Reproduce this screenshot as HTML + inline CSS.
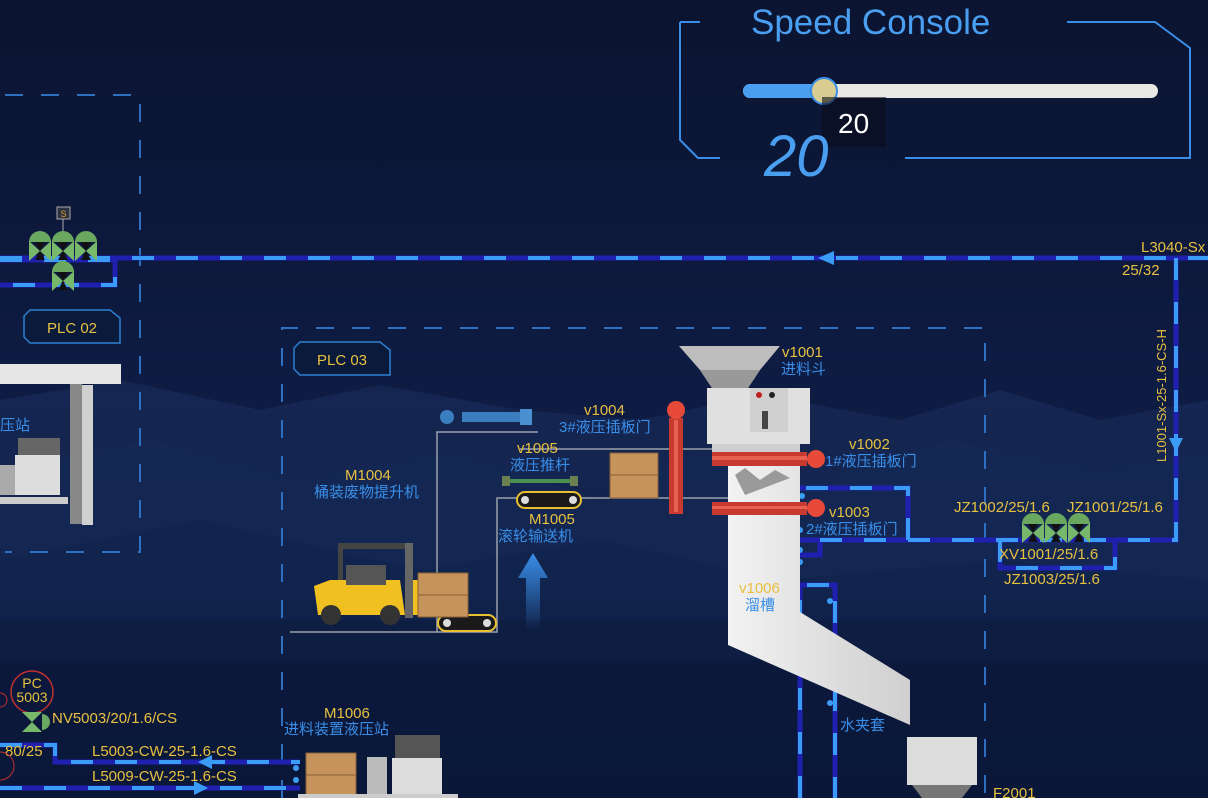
<!DOCTYPE html>
<html><head><meta charset="utf-8"><style>
html,body{margin:0;padding:0;background:#0b1635;}
svg{display:block;font-family:"Liberation Sans","Noto Sans CJK SC",sans-serif;}
</style></head><body>
<svg width="1208" height="798" viewBox="0 0 1208 798" xmlns="http://www.w3.org/2000/svg">
<defs>
<linearGradient id="bg" x1="0" y1="0" x2="0" y2="1">
<stop offset="0" stop-color="#0b1430"/><stop offset="0.5" stop-color="#0e1c44"/><stop offset="1" stop-color="#0a1738"/>
</linearGradient>
<linearGradient id="chute" x1="0" y1="0" x2="1" y2="0"><stop offset="0" stop-color="#f2f2f2"/><stop offset="1" stop-color="#cfcfcf"/></linearGradient>
<linearGradient id="arr" x1="0" y1="0" x2="0" y2="1"><stop offset="0" stop-color="#3a8ee8"/><stop offset="1" stop-color="#3a8ee8" stop-opacity="0"/></linearGradient>
<g id="valve"><path d="M-11 -1 A11 11 0 0 1 11 -1Z" fill="#6aa860"/><path d="M-11 -2 L0 8 L-11 18Z M11 -2 L0 8 L11 18Z" fill="#78b86a"/><path d="M-5 -1 L5 -1 L0 8 L-5 17 L5 17 L0 8Z" fill="#111"/></g>
</defs>
<rect width="1208" height="798" fill="url(#bg)"/>
<!-- mountains -->
<path d="M0 400 L120 380 L260 410 L380 385 L520 410 L640 420 L760 395 L900 420 L1000 390 L1100 420 L1208 400 L1208 600 L0 600Z" fill="#1a2f5e" opacity="0.5"/>
<path d="M0 470 L150 440 L300 480 L450 450 L600 500 L700 450 L820 480 L950 440 L1100 470 L1208 450 L1208 620 L0 620Z" fill="#142a55" opacity="0.55"/>
<path d="M0 560 L200 520 L420 570 L600 540 L780 580 L1000 560 L1208 580 L1208 660 L0 660Z" fill="#0f2148" opacity="0.5"/>

<!-- dashed areas -->
<g fill="none" stroke="#2f6fc0" stroke-width="2" stroke-dasharray="18,18">
<path d="M5 95 L140 95 L140 552 L5 552"/>
<path d="M282 798 L282 328 L985 328 L985 798"/>
</g>

<g fill="none" stroke-linejoin="miter">
<g stroke="#2020b0" stroke-width="5">
<path d="M0 258 L1208 258"/>
<path d="M0 260 L115 260 L115 285 L0 285"/>
<path d="M1176 258 L1176 540 L800 540"/>
<path d="M908 540 L908 488 L800 488"/>
<path d="M1000 540 L1000 568 L1115 568 L1115 540"/>
<path d="M820 540 L820 555 L800 555"/>
<path d="M800 798 L800 585 L835 585 L835 798"/>
<path d="M0 745 L55 745 L55 762 L300 762"/>
<path d="M0 788 L300 788"/>
</g>
<g stroke="#3a9cf5" stroke-width="4" stroke-dasharray="22,22">
<path d="M0 258 L1208 258"/>
<path d="M0 260 L115 260 L115 285 L0 285"/>
<path d="M1176 258 L1176 540 L800 540"/>
<path d="M908 540 L908 488 L800 488"/>
<path d="M1000 540 L1000 568 L1115 568 L1115 540"/>
<path d="M800 798 L800 585 L835 585 L835 798"/>
<path d="M0 745 L55 745 L55 762 L300 762"/>
<path d="M0 788 L300 788"/>
</g>
</g>
<g fill="#3a9cf5">
<path d="M818 258 L834 251 L834 265Z"/>
<path d="M1176 452 L1169 438 L1183 438Z"/>
<path d="M198 762 L212 755 L212 769Z"/>
<path d="M208 788 L194 781 L194 795Z"/>
</g>
<g fill="#3a9cf5">
<circle cx="802" cy="496" r="3"/><circle cx="800" cy="530" r="3"/><circle cx="800" cy="550" r="3"/><circle cx="800" cy="562" r="3"/>
<circle cx="830" cy="601" r="3"/><circle cx="830" cy="703" r="3"/>
<circle cx="296" cy="768" r="3"/><circle cx="296" cy="780" r="3"/>
</g>

<!-- top-left valves -->
<rect x="57" y="207" width="13" height="12" fill="#2a3140" stroke="#aaa" stroke-width="1"/>
<text x="63.5" y="217" font-size="9" fill="#e0a030" text-anchor="middle">S</text>
<line x1="63" y1="219" x2="63" y2="235" stroke="#aaa"/>
<use href="#valve" x="40" y="243"/>
<use href="#valve" x="63" y="243"/>
<use href="#valve" x="86" y="243"/>
<use href="#valve" x="63" y="273"/>

<!-- PLC labels -->
<g fill="#0a1a3a" stroke="#2f7fd0" stroke-width="1.5">
<path d="M30 310 L110 310 L120 318 L120 343 L30 343 L24 337 L24 316Z"/>
<path d="M300 342 L380 342 L390 350 L390 375 L300 375 L294 369 L294 348Z"/>
</g>
<text x="72" y="333" font-size="15" fill="#e8c040" text-anchor="middle">PLC  02</text>
<text x="342" y="365" font-size="15" fill="#e8c040" text-anchor="middle">PLC  03</text>

<!-- left station -->
<rect x="0" y="364" width="121" height="20" fill="#e6e6e6"/>
<rect x="70" y="384" width="12" height="140" fill="#888"/>
<rect x="82" y="385" width="11" height="140" fill="#d0d0d0"/>
<text x="0" y="430" font-size="15" fill="#3a8ee8">压站</text>
<rect x="18" y="438" width="42" height="25" fill="#666"/>
<rect x="15" y="455" width="45" height="40" fill="#ddd"/>
<rect x="0" y="465" width="15" height="30" fill="#aaa"/>
<rect x="0" y="497" width="68" height="7" fill="#ccc"/>

<!-- Speed console -->
<path d="M680 22 L700 22 M680 22 L680 140 L698 158 L720 158" fill="none" stroke="#3a8ee8" stroke-width="2"/>
<path d="M1067 22 L1155 22 L1190 48 L1190 158 L905 158" fill="none" stroke="#3a8ee8" stroke-width="2"/>
<text x="751" y="34" font-size="35" fill="#4a9ef0">Speed Console</text>
<rect x="743" y="84" width="415" height="14" rx="7" fill="#e8e8e4"/>
<rect x="743" y="84" width="80" height="14" rx="7" fill="#4a9ef0"/>
<circle cx="824" cy="91" r="13" fill="#d8cc90" stroke="#3a8ee8" stroke-width="2"/>
<rect x="822" y="97" width="64" height="50" fill="#0a0e1a" opacity="0.6"/>
<text x="838" y="133" font-size="28" fill="#fff">20</text>
<text x="764" y="176" font-size="58" font-style="italic" fill="#4a9ef0">20</text>

<text x="1141" y="252" font-size="15" fill="#e8c040">L3040-Sx</text>
<text x="1122" y="275" font-size="15" fill="#e8c040">25/32</text>
<text transform="translate(1166,462) rotate(-90)" font-size="13" fill="#e8c040">L1001-Sx-25-1.6-CS-H</text>

<!-- right valves -->
<use href="#valve" x="1033" y="525"/>
<use href="#valve" x="1056" y="525"/>
<use href="#valve" x="1079" y="525"/>
<g font-size="15" fill="#e8c040">
<text x="954" y="512">JZ1002/25/1.6</text>
<text x="1067" y="512">JZ1001/25/1.6</text>
<text x="999" y="559">XV1001/25/1.6</text>
<text x="1004" y="584">JZ1003/25/1.6</text>
</g>

<g fill="none" stroke="#9aa0aa" stroke-width="1.5">
<path d="M290 632 L437 632 L437 432 L538 432"/>
<path d="M437 632 L497 632 L497 498 L730 498"/>
<path d="M520 449 L730 449"/>
</g>

<path d="M679 346 L780 346 L760 370 L748 388 L712 388 L700 370Z" fill="#bdbdbd"/>
<path d="M700 370 L760 370 L748 388 L712 388Z" fill="#999"/>
<rect x="707" y="388" width="103" height="56" fill="#e0e0e0"/>
<rect x="750" y="388" width="38" height="44" fill="#d0d0d0"/>
<circle cx="759" cy="395" r="3" fill="#c02020"/><circle cx="772" cy="395" r="3" fill="#222"/>
<rect x="762" y="411" width="6" height="18" fill="#444"/>
<rect x="712" y="444" width="88" height="14" fill="#cfcfcf"/>
<path d="M728 458 L800 458 L800 612 L910 680 L910 725 L728 645Z" fill="url(#chute)"/>
<path d="M735 475 L745 468 L760 480 L775 470 L790 478 L745 495Z" fill="#9a9a9a"/>
<rect x="712" y="452" width="95" height="14" fill="#c83a30"/>
<rect x="712" y="456" width="95" height="4" fill="#e86050"/>
<circle cx="816" cy="459" r="9" fill="#e84a3a"/>
<rect x="712" y="502" width="95" height="13" fill="#c83a30"/>
<rect x="712" y="506" width="95" height="3" fill="#e86050"/>
<circle cx="816" cy="508" r="9" fill="#e84a3a"/>
<rect x="669" y="418" width="14" height="96" fill="#c83a30"/>
<rect x="674" y="420" width="4" height="92" fill="#e86050"/>
<circle cx="676" cy="410" r="9" fill="#e84a3a"/>
<rect x="610" y="453" width="48" height="45" fill="#c7935c" stroke="#8a6238"/>
<line x1="610" y1="475" x2="658" y2="475" stroke="#8a6238"/>
<rect x="440" y="410" width="14" height="14" rx="7" fill="#3a7ec0"/>
<rect x="462" y="412" width="60" height="10" fill="#3a7ec0"/><rect x="520" y="409" width="12" height="16" fill="#4a90d0"/>
<rect x="502" y="476" width="8" height="10" fill="#6a8050"/><rect x="510" y="479" width="60" height="4" fill="#4a9050"/><rect x="570" y="476" width="8" height="10" fill="#6a8050"/>
<rect x="517" y="492" width="64" height="16" rx="8" fill="#1a1a1a" stroke="#e8c030" stroke-width="2"/>
<circle cx="525" cy="500" r="4" fill="#ddd"/><circle cx="573" cy="500" r="4" fill="#ddd"/>
<rect x="438" y="615" width="58" height="16" rx="8" fill="#1a1a1a" stroke="#e8c030" stroke-width="2"/>
<circle cx="447" cy="623" r="4" fill="#ddd"/><circle cx="487" cy="623" r="4" fill="#ddd"/>
<path d="M533 553 L548 578 L540 578 L540 630 L526 630 L526 578 L518 578Z" fill="url(#arr)"/>
<rect x="338" y="543" width="70" height="6" fill="#444"/>
<rect x="338" y="543" width="5" height="45" fill="#444"/>
<rect x="405" y="543" width="8" height="75" fill="#666"/>
<path d="M314 586 L330 580 L400 580 L405 615 L318 615Z" fill="#f0c020"/>
<rect x="346" y="565" width="40" height="20" fill="#555"/>
<circle cx="331" cy="615" r="10" fill="#333"/><circle cx="390" cy="615" r="10" fill="#333"/>
<rect x="413" y="580" width="10" height="35" fill="#f0c020"/>
<rect x="418" y="573" width="50" height="44" fill="#c7935c" stroke="#8a6238"/>
<line x1="418" y1="595" x2="468" y2="595" stroke="#8a6238"/>

<g font-size="15">
<text x="782" y="357" fill="#e8c040">v1001</text><text x="781" y="374" fill="#3a8ee8">进料斗</text>
<text x="584" y="415" fill="#e8c040">v1004</text><text x="559" y="432" fill="#3a8ee8">3#液压插板门</text>
<text x="849" y="449" fill="#e8c040">v1002</text><text x="825" y="466" fill="#3a8ee8">1#液压插板门</text>
<text x="829" y="517" fill="#e8c040">v1003</text><text x="806" y="534" fill="#3a8ee8">2#液压插板门</text>
<text x="517" y="453" fill="#e8c040">v1005</text><text x="510" y="470" fill="#3a8ee8">液压推杆</text>
<text x="345" y="480" fill="#e8c040">M1004</text><text x="314" y="497" fill="#3a8ee8">桶装废物提升机</text>
<text x="529" y="524" fill="#e8c040">M1005</text><text x="498" y="541" fill="#3a8ee8">滚轮输送机</text>
<text x="739" y="593" fill="#e8c040">v1006</text><text x="745" y="610" fill="#3a8ee8">溜槽</text>
<text x="840" y="730" fill="#3a8ee8">水夹套</text>
<text x="324" y="718" fill="#e8c040">M1006</text><text x="284" y="734" fill="#3a8ee8">进料装置液压站</text>
<text x="993" y="798" fill="#e8c040">F2001</text>
<text x="52" y="723" fill="#e8c040">NV5003/20/1.6/CS</text>
<text x="5" y="756" fill="#e8c040">80/25</text>
<text x="92" y="756" fill="#e8c040">L5003-CW-25-1.6-CS</text>
<text x="92" y="781" fill="#e8c040">L5009-CW-25-1.6-CS</text>
</g>
<circle cx="32" cy="692" r="21" fill="none" stroke="#c03030" stroke-width="1.5"/>
<text x="32" y="688" font-size="14" fill="#e8c040" text-anchor="middle">PC</text>
<text x="32" y="702" font-size="14" fill="#e8c040" text-anchor="middle">5003</text>
<circle cx="0" cy="700" r="7" fill="none" stroke="#c03030"/>
<circle cx="0" cy="766" r="14" fill="none" stroke="#c03030"/>
<path d="M22 712 L42 712 L32 722Z M22 732 L42 732 L32 722Z" fill="#78b86a"/>
<path d="M42 714 A8 8 0 0 1 42 730Z" fill="#6aa860"/>
<rect x="306" y="753" width="50" height="45" fill="#c7935c" stroke="#8a6238"/>
<line x1="306" y1="775" x2="356" y2="775" stroke="#8a6238"/>
<rect x="367" y="757" width="20" height="38" fill="#bbb"/>
<rect x="395" y="735" width="45" height="25" fill="#555"/>
<rect x="392" y="758" width="50" height="36" fill="#ddd"/>
<rect x="298" y="794" width="160" height="4" fill="#ccc"/>
<rect x="907" y="737" width="70" height="48" fill="#dcdcdc"/>
<path d="M912 785 L972 785 L962 798 L922 798Z" fill="#777"/>
</svg>
</body></html>
